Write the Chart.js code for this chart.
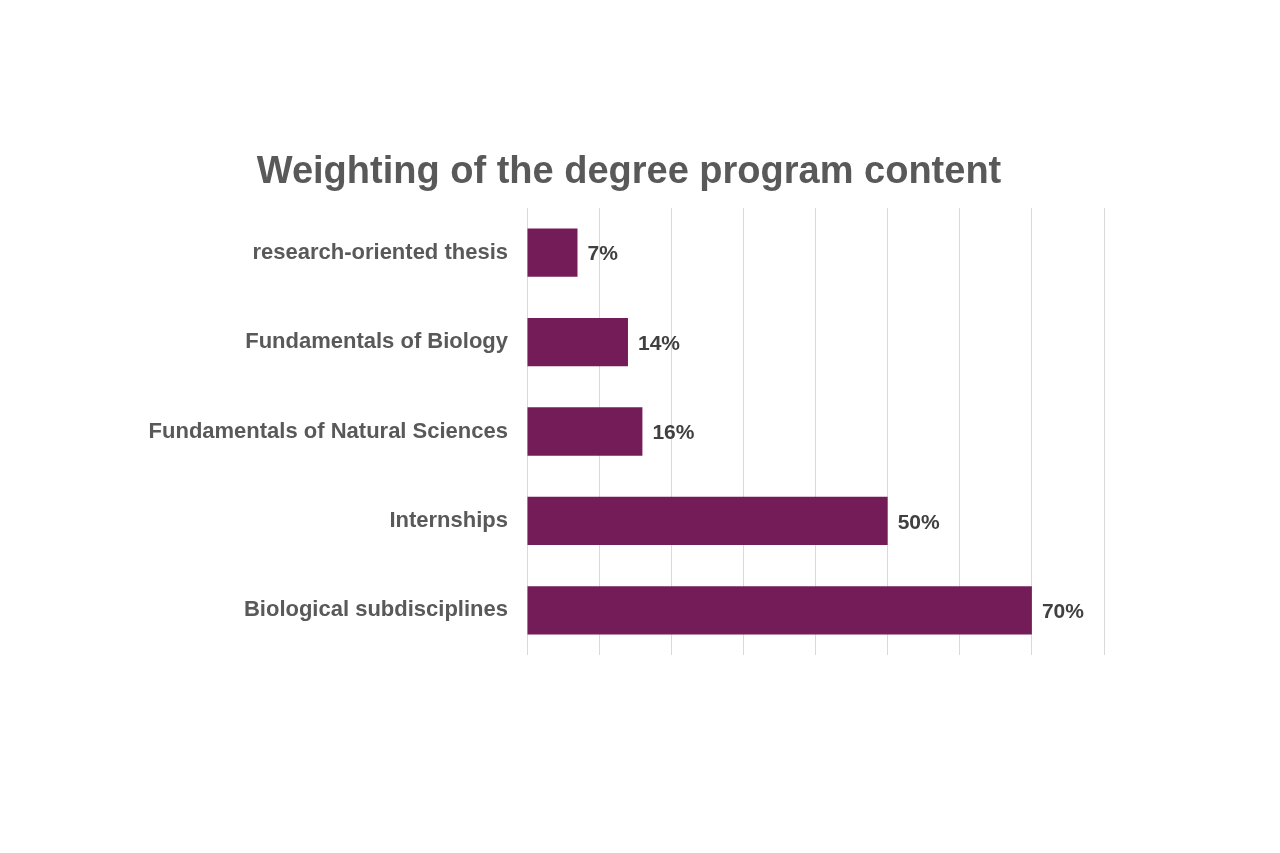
<!DOCTYPE html>
<html>
<head>
<meta charset="utf-8">
<script src="https://cdn.jsdelivr.net/npm/chart.js@4/dist/chart.umd.min.js"></script>
<style>
html,body{margin:0;padding:0;background:#fff;}
#wrap{width:1280px;height:853px;position:relative;}
</style>
</head>
<body>
<div id="wrap"><canvas id="c" width="1280" height="853"></canvas></div>
<script>
const titleText = "Weighting of the degree program content";
const categories = ["research-oriented thesis", "Fundamentals of Biology", "Fundamentals of Natural Sciences", "Internships", "Biological subdisciplines"];
const values = [7, 14, 16, 50, 70];
const valueLabels = ["7%", "14%", "16%", "50%", "70%"];
const axisMax = 80;
const axisStep = 10;

const FONT = "'Liberation Sans', Arial, sans-serif";

const titlePlugin = {
  id: 'customTitle',
  afterDraw(chart) {
    const ctx = chart.ctx;
    ctx.save();
    ctx.font = "bold 38px " + FONT;
    ctx.fillStyle = "#595959";
    ctx.textAlign = "center";
    ctx.textBaseline = "alphabetic";
    ctx.fillText(titleText, 629, 183);
    ctx.restore();
  }
};

const labelPlugin = {
  id: 'valueLabels',
  afterDatasetsDraw(chart) {
    const ctx = chart.ctx;
    const meta = chart.getDatasetMeta(0);
    ctx.save();
    ctx.font = "bold 21px " + FONT;
    ctx.fillStyle = "#404040";
    ctx.textAlign = "left";
    ctx.textBaseline = "middle";
    meta.data.forEach((bar, i) => {
      ctx.fillText(valueLabels[i], bar.x + 10, bar.y + 2);
    });
    ctx.restore();
  }
};

new Chart(document.getElementById('c'), {
  type: 'bar',
  data: {
    labels: categories,
    datasets: [{
      data: values,
      backgroundColor: '#731C58',
      borderWidth: 0,
      categoryPercentage: 1,
      barPercentage: 0.54
    }]
  },
  options: {
    indexAxis: 'y',
    responsive: false,
    animation: false,
    layout: { padding: { left: 0, right: 176, top: 208, bottom: 198 } },
    plugins: { legend: { display: false }, tooltip: { enabled: false }, title: { display: false } },
    scales: {
      x: {
        min: 0, max: axisMax,
        ticks: { display: false, stepSize: axisStep },
        grid: { color: '#D9D9D9', lineWidth: 1, drawTicks: false },
        border: { display: false },
        afterFit(s) { s.height = 0; }
      },
      y: {
        ticks: { color: '#595959', font: { family: FONT, size: 22, weight: 'bold' }, padding: 19 },
        grid: { display: false, drawTicks: false },
        border: { display: false },
        afterFit(s) { s.width = 527; }
      }
    }
  },
  plugins: [titlePlugin, labelPlugin]
});
</script>
</body>
</html>
